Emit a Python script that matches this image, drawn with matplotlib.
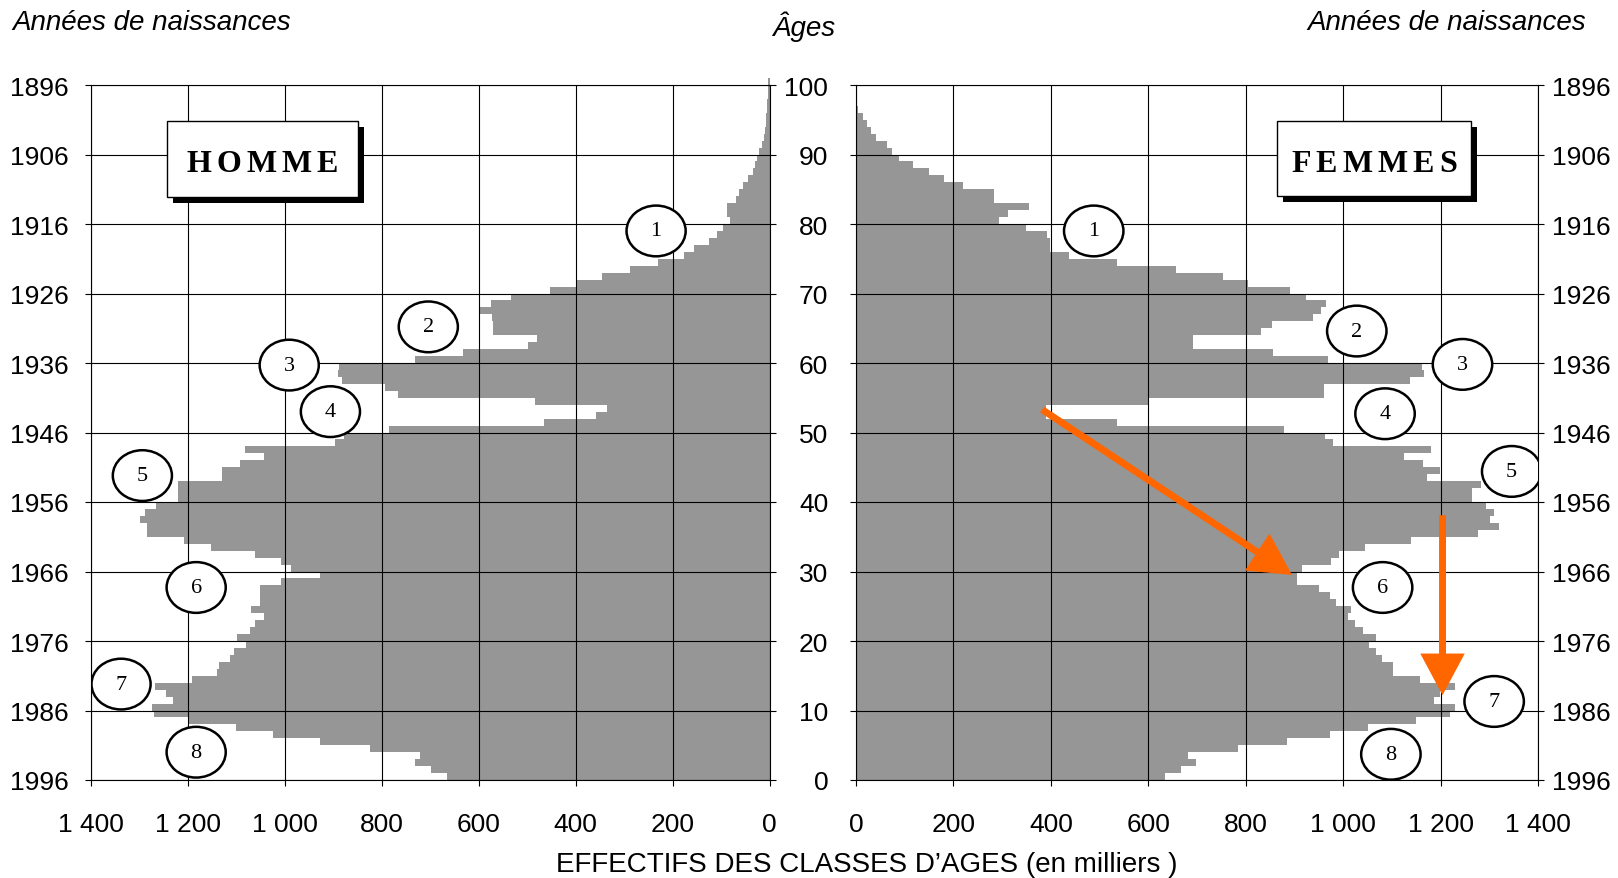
import matplotlib
matplotlib.use("Agg")
import matplotlib.pyplot as plt
from matplotlib.patches import Rectangle, Ellipse, FancyArrowPatch
import numpy as np

plt.rcParams.update({
    "font.family": ["Liberation Sans", "DejaVu Sans"],
    "font.size": 19,
})

# ── data: population by age (thousands), ages 0..100 ─────────────────
AGES = np.arange(0, 101)
HOMMES = [
    666, 699, 731, 722, 824, 928, 1025, 1101, 1197, 1271,      # 0-9
    1275, 1231, 1246, 1268, 1192, 1141, 1135, 1113, 1104, 1081,  # 10-19
    1098, 1072, 1062, 1044, 1070, 1051, 1051, 1051, 1007, 928,   # 20-29
    987, 1007, 1062, 1153, 1209, 1285, 1285, 1298, 1289, 1266,   # 30-39
    1220, 1220, 1220, 1129, 1129, 1092, 1044, 1083, 896, 877,    # 40-49
    785, 466, 359, 336, 484, 766, 794, 882, 891, 888,            # 50-59
    731, 632, 498, 479, 570, 570, 572, 600, 574, 533,            # 60-69
    453, 398, 345, 287, 230, 176, 155, 125, 108, 95,             # 70-79
    82, 88, 88, 70, 62, 54, 44, 35, 30, 26,                      # 80-89
    21, 15, 12, 10, 8, 7, 6, 5, 4, 3,                            # 90-99
    3,                                                           # 100
]
FEMMES = [
    635, 667, 698, 682, 784, 884, 972, 1050, 1149, 1220,
    1229, 1187, 1198, 1229, 1157, 1103, 1103, 1080, 1067, 1053,
    1067, 1041, 1025, 1010, 1016, 985, 972, 950, 905, 905,
    916, 975, 992, 1045, 1140, 1277, 1320, 1301, 1309, 1294,
    1264, 1264, 1283, 1172, 1198, 1164, 1124, 1181, 979, 963,
    878, 535, 391, 391, 600, 960, 960, 1137, 1165, 1161,
    968, 856, 691, 691, 832, 853, 939, 955, 964, 923,
    890, 804, 753, 656, 535, 437, 398, 398, 393, 349,
    293, 313, 356, 284, 284, 220, 180, 149, 118, 88,
    73, 63, 42, 31, 23, 14, 5, 0, 0, 0,
    0,
]
X_TICKS = [0, 200, 400, 600, 800, 1000, 1200, 1400]
AGE_TICKS = [0, 10, 20, 30, 40, 50, 60, 70, 80, 90, 100]
YEAR_LABELS = [str(1996 - a) for a in AGE_TICKS]

# numbered ellipses (value, age) and arrows on the women side
LEFT_MARKS = [(234, 79.0), (704, 65.2), (991, 59.7), (906, 53.0),
              (1294, 43.8), (1183, 27.7), (1338, 13.8), (1183, 4.0)]
RIGHT_MARKS = [(488, 79.0), (1028, 64.6), (1245, 59.8), (1086, 52.7),
               (1346, 44.4), (1081, 27.7), (1310, 11.3), (1098, 3.7)]
ARROWS = [((382, 53.3), (895, 29.5)), ((1204, 38.1), (1204, 12.2))]

GRAY = "#969696"
ORANGE = "#FF6600"
W, H = 1618, 879


def fmt(v):
    return f"{v:,}".replace(",", " ")


def px(x0, y0, x1, y1):
    """pixel box -> figure-fraction rect"""
    return [x0 / W, 1 - y1 / H, (x1 - x0) / W, (y1 - y0) / H]


fig = plt.figure(figsize=(W / 100, H / 100), dpi=100)
axL = fig.add_axes(px(91, 86, 769.5, 781))
axR = fig.add_axes(px(856, 86, 1538, 781))

for ax, vals in ((axL, HOMMES), (axR, FEMMES)):
    ax.barh(AGES + 0.5, vals, height=1.0, color=GRAY, lw=0, zorder=1, clip_on=False)
    ax.set_ylim(0, 100)
    ax.set_xticks(X_TICKS, [fmt(v) for v in X_TICKS])
    ax.set_yticks(AGE_TICKS)
    ax.set_axisbelow(False)
    ax.grid(True, color="black", lw=0.8, zorder=3)
    for s in ax.spines.values():
        s.set_linewidth(0.8)
        s.set_zorder(3)
    ax.tick_params(axis="x", direction="out", length=4, width=0.8, pad=19)
    ax.tick_params(axis="y", direction="out", length=4, width=0.8)

axL.set_xlim(1400, 0)
axR.set_xlim(0, 1400)

# left panel: birth years left, plain ticks right
axL.tick_params(axis="y", left=True, right=True, labelleft=True, labelright=False, pad=12)
axL.set_yticklabels(YEAR_LABELS)
# right panel: ages on the left, birth years on the right
axR.tick_params(axis="y", left=True, right=True, labelleft=True, labelright=False, pad=16)
axR.set_yticklabels([str(a) for a in AGE_TICKS])
axR2 = axR.twinx()
axR2.set_ylim(0, 100)
axR2.set_yticks(AGE_TICKS, YEAR_LABELS)
axR2.tick_params(axis="y", direction="out", length=4, width=0.8, pad=6)
for s in axR2.spines.values():
    s.set_visible(False)

# numbered ellipses
for ax, marks in ((axL, LEFT_MARKS), (axR, RIGHT_MARKS)):
    for i, (v, a) in enumerate(marks, start=1):
        ax.add_patch(Ellipse((v, a), 122, 7.3, fc="white", ec="black", lw=1.8, zorder=6))
        ax.text(v, a, str(i), ha="center", va="center", fontsize=16,
                family="Liberation Serif", zorder=7)

# orange arrows
for (x0, y0), (x1, y1) in ARROWS:
    axR.add_patch(FancyArrowPatch((x0, y0), (x1, y1), mutation_scale=1,
                                  arrowstyle="simple,head_length=30,head_width=32,tail_width=5",
                                  color=ORANGE, lw=0, zorder=8, shrinkA=0, shrinkB=0))

renderer = fig.canvas.get_renderer()


# title boxes with drop shadow, letter-spaced label
def title_box(x0, y0, x1, y1, label, track=5):
    fig.add_artist(Rectangle(px(x0 + 6, y0 + 6, x1 + 6, y1 + 6)[:2],
                             (x1 - x0) / W, (y1 - y0) / H, transform=fig.transFigure,
                             fc="black", ec="black", lw=0, zorder=10))
    fig.add_artist(Rectangle(px(x0, y0, x1, y1)[:2], (x1 - x0) / W, (y1 - y0) / H,
                             transform=fig.transFigure, fc="white", ec="black", lw=1.0, zorder=11))
    yc = 1 - ((y0 + y1) / 2 + 5) / H
    texts = [fig.text(0, yc, ch, ha="left", va="center", fontsize=23, weight="bold",
                      family="Liberation Serif", zorder=12) for ch in label]
    widths = [t.get_window_extent(renderer).width for t in texts]
    total = sum(widths) + track * (len(label) - 1)
    x = (x0 + x1) / 2 - total / 2
    for t, w in zip(texts, widths):
        t.set_x(x / W)
        x += w + track


title_box(167, 122, 358, 198, "HOMME")
title_box(1277, 122, 1471, 197, "FEMMES")

fig.text(12 / W, 1 - 23 / H, "Années de naissances", ha="left", va="center",
         style="italic", fontsize=20)
fig.text(1586 / W, 1 - 23 / H, "Années de naissances", ha="right", va="center",
         style="italic", fontsize=20)
fig.text(804 / W, 1 - 27 / H, "Âges", ha="center", va="center", style="italic", fontsize=20)
fig.text(867 / W, 1 - 865 / H, "EFFECTIFS DES CLASSES D\u2019AGES (en milliers )",
         ha="center", va="center", fontsize=20)

fig.savefig("out.png", dpi=100)
